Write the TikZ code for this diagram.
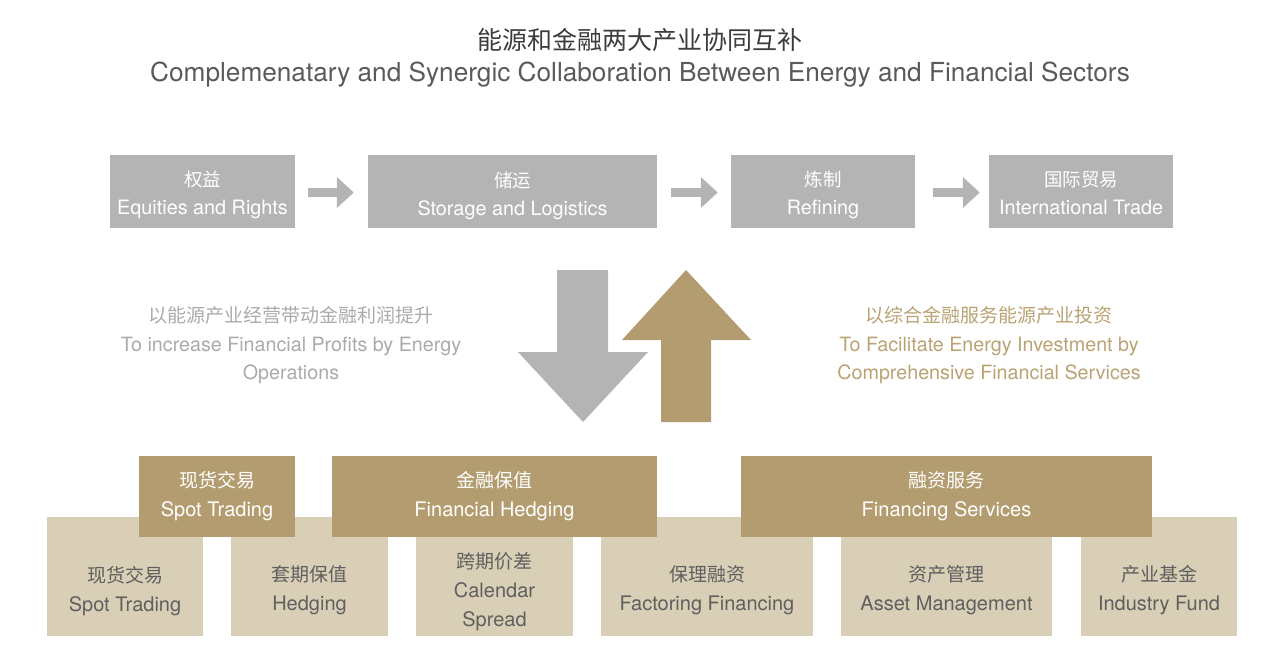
\documentclass[tikz,border=0pt]{standalone}
\usepackage{fontspec}
\setmainfont{TeX Gyre Heros}
\newfontfamily\cjk{Noto Sans CJK SC}
\usetikzlibrary{arrows.meta}
\definecolor{boxgray}{RGB}{179,180,179}
\definecolor{gold}{RGB}{179,157,112}
\definecolor{beige}{RGB}{216,207,182}
\definecolor{beigetext}{RGB}{95,95,95}
\definecolor{lefttext}{RGB}{170,170,170}
\definecolor{righttext}{RGB}{186,162,115}
\definecolor{titlecn}{RGB}{60,60,60}
\definecolor{titleen}{RGB}{90,90,90}
\newcommand{\cn}[1]{{\cjk\fontsize{19}{28}\selectfont #1}}
\newcommand{\cntop}[1]{{\cjk\fontsize{18.5}{28}\selectfont #1}}
\tikzset{
  x=1pt, y=-1pt,
  topbox/.style={fill=boxgray, text=white, inner sep=0, align=center, font=\fontsize{19.8}{28}\selectfont},
  goldbox/.style={fill=gold, text=white, inner sep=0, align=center, font=\fontsize{20}{29}\selectfont},
  beigebox/.style={fill=beige, inner sep=0},
  beigelabel/.style={text=beigetext, align=center, font=\fontsize{20}{29}\selectfont},
  flow/.style={draw=boxgray, line width=9pt, -{Triangle[length=17pt,width=30pt]}},
  sidetext/.style={align=center, font=\fontsize{19.7}{28.5}\selectfont}
}
\begin{document}
\begin{tikzpicture}
\useasboundingbox (0,0) rectangle (1279,667);
% title
\node[text=titlecn, font=\cjk\fontsize{25}{28}\selectfont] (tcn) at (640,40) {能源和金融两大产业协同互补};
\node[text=titleen, font=\fontsize{26.2}{28}\selectfont] (ten) at (640,75) {Complemenatary and Synergic Collaboration Between Energy and Financial Sectors};
% top row
\node[topbox, minimum width=185, minimum height=73] (t1) at (202.5,191.5) {};
\node[topbox, minimum width=289, minimum height=73] (t2) at (512.5,191.5) {};
\node[topbox, minimum width=184, minimum height=73] (t3) at (823,191.5) {};
\node[topbox, minimum width=184, minimum height=73] (t4) at (1081,191.5) {};
\node[topbox, fill=none] (tt1) at ([yshift=-3]t1.center) {\cntop{权益}\\Equities and Rights};
\node[topbox, fill=none] (tt2) at ([yshift=-4.5]t2.center) {\cntop{储运}\\Storage and Logistics};
\node[topbox, fill=none] (tt3) at ([yshift=-3]t3.center) {\cntop{炼制}\\Refining};
\node[topbox, fill=none] (tt4) at ([yshift=-1.5]t4.center) {\cntop{国际贸易}\\International Trade};
\draw[flow] ([xshift=13,yshift=-1]t1.east) -- ([xshift=-14,yshift=-1]t2.west);
\draw[flow] ([xshift=14,yshift=-1]t2.east) -- ([xshift=-13,yshift=-1]t3.west);
\draw[flow] ([xshift=18,yshift=-1]t3.east) -- ([xshift=-9,yshift=-1]t4.west);
% big arrows
\fill[boxgray] (557,270) -- (608,270) -- (608,352) -- (648,352) -- (583,422) -- (518,352) -- (557,352) -- cycle;
\fill[gold] (686,270) -- (751,340) -- (711,340) -- (711,422) -- (661,422) -- (661,340) -- (622,340) -- cycle;
% side texts
\node[sidetext, text=lefttext] (lt) at (291,345.5) {\cn{以能源产业经营带动金融利润提升}\\To increase Financial Profits by Energy\\Operations};
\node[sidetext, text=righttext] (rt) at (989,345.5) {\cn{以综合金融服务能源产业投资}\\To Facilitate Energy Investment by\\Comprehensive Financial Services};
% beige boxes
\node[beigebox, minimum width=156, minimum height=119] (b1) at (125,576.5) {};
\node[beigebox, minimum width=157, minimum height=119] (b2) at (309.5,576.5) {};
\node[beigebox, minimum width=157, minimum height=119] (b3) at (494.5,576.5) {};
\node[beigebox, minimum width=212, minimum height=119] (b4) at (707,576.5) {};
\node[beigebox, minimum width=211, minimum height=119] (b5) at (946.5,576.5) {};
\node[beigebox, minimum width=156, minimum height=119] (b6) at (1159,576.5) {};
\node[beigelabel] (l1) at ([yshift=-15]b1.center) {\cn{现货交易}\\Spot Trading};
\node[beigelabel] (l2) at ([yshift=-14]b2.center) {\cn{套期保值}\\Hedging};
\node[beigelabel] (l3) at ([yshift=-15]b3.center) {\cn{跨期价差}\\Calendar\\Spread};
\node[beigelabel] (l4) at ([yshift=-14]b4.center) {\cn{保理融资}\\Factoring Financing};
\node[beigelabel] (l5) at ([yshift=-14]b5.center) {\cn{资产管理}\\Asset Management};
\node[beigelabel] (l6) at ([yshift=-14]b6.center) {\cn{产业基金}\\Industry Fund};
% gold boxes
\node[goldbox, minimum width=156, minimum height=81] (g1) at (217,496.5) {\cn{现货交易}\\Spot Trading};
\node[goldbox, minimum width=325, minimum height=81] (g2) at (494.5,496.5) {\cn{金融保值}\\Financial Hedging};
\node[goldbox, minimum width=411, minimum height=81] (g3) at (946.5,496.5) {\cn{融资服务}\\Financing Services};
\end{tikzpicture}
\end{document}
